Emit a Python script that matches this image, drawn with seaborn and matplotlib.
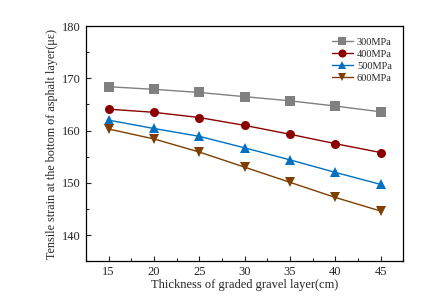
import matplotlib
matplotlib.use("Agg")
import matplotlib.pyplot as plt
from matplotlib.ticker import MultipleLocator
import pandas as pd
import seaborn as sns

thickness = [15, 20, 25, 30, 35, 40, 45]
mpa_300 = [168.4, 167.9, 167.3, 166.5, 165.7, 164.7, 163.6]
mpa_400 = [164.1, 163.5, 162.5, 161.0, 159.3, 157.5, 155.8]
mpa_500 = [162.0, 160.4, 158.9, 156.7, 154.4, 152.0, 149.7]
mpa_600 = [160.3, 158.4, 155.9, 153.0, 150.1, 147.2, 144.6]
series_names = ["300MPa", "400MPa", "500MPa", "600MPa"]

rows = []
for name, vals in zip(series_names, [mpa_300, mpa_400, mpa_500, mpa_600]):
    for t, v in zip(thickness, vals):
        rows.append({"thickness": t, "strain": v, "modulus": name})
df = pd.DataFrame(rows)

sns.set_style("ticks")
plt.rcParams["font.family"] = ["Liberation Serif", "DejaVu Serif"]

colors = {"300MPa": "#808080", "400MPa": "#8B0000",
          "500MPa": "#0070C0", "600MPa": "#7F3F00"}
markers = {"300MPa": "s", "400MPa": "o", "500MPa": "^", "600MPa": "v"}

fig = plt.figure(figsize=(4.34, 3.04), dpi=100)
ax = fig.add_axes([0.198, 0.141, 0.731, 0.773])
sns.lineplot(data=df, x="thickness", y="strain", hue="modulus",
             style="modulus", palette=colors, markers=markers, dashes=False,
             markersize=6.5, markeredgewidth=0, linewidth=1, ax=ax)

ax.set_xlim(12.5, 47.5)
ax.set_ylim(135, 180)
ax.xaxis.set_major_locator(MultipleLocator(5))
ax.xaxis.set_minor_locator(MultipleLocator(2.5))
ax.yaxis.set_minor_locator(MultipleLocator(5))
ax.set_yticks([140, 150, 160, 170, 180])
ax.tick_params(which="both", direction="in", top=False, right=False,
               labelsize=9, width=0.8)
ax.tick_params(which="major", length=3.5)
ax.tick_params(which="minor", length=2)
for s in ax.spines.values():
    s.set_linewidth(0.9)
    s.set_color("black")

ax.set_xlabel("Thickness of graded gravel layer(cm)", fontsize=9, labelpad=1)
ax.set_ylabel("Tensile strain at the bottom of asphalt layer(με)",
              fontsize=8.7, labelpad=3)

leg = ax.legend(loc="upper right", frameon=False, fontsize=7.5,
                handlelength=2.0, labelspacing=0.25, borderaxespad=0.7,
                handletextpad=0.4, markerscale=0.9)

fig.savefig("out.png", dpi=100)
